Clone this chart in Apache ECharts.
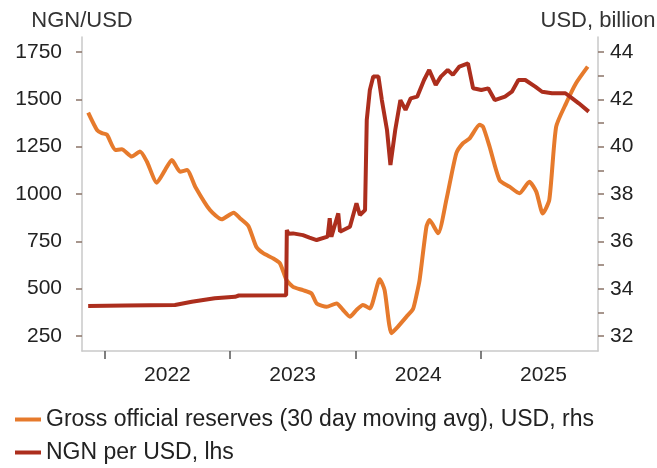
<!DOCTYPE html>
<html>
<head>
<meta charset="utf-8">
<script src="https://cdn.jsdelivr.net/npm/echarts@6/dist/echarts.min.js"></script>
<style>
  html, body { margin: 0; padding: 0; background: #fff; }
  #chart { width: 657px; height: 468px; }
</style>
</head>
<body>
<div id="chart"></div>
<script>
// Gross official reserves, 30 day moving avg (USD bn, right axis)
const reserveDates = [
  '2021-11-13', '2021-12-09', '2021-12-23', '2022-01-07', '2022-01-31', '2022-02-19',
  '2022-03-20', '2022-04-13', '2022-05-03', '2022-06-01', '2022-06-25', '2022-07-15',
  '2022-08-08', '2022-08-28', '2022-09-21', '2022-11-03', '2022-12-07', '2023-01-11',
  '2023-01-30', '2023-02-23', '2023-03-18', '2023-04-07', '2023-05-06', '2023-05-26',
  '2023-06-14', '2023-07-03', '2023-08-01', '2023-08-26', '2023-09-10', '2023-10-09',
  '2023-11-07', '2023-11-26', '2023-12-16', '2024-01-04', '2024-01-23', '2024-02-12',
  '2024-03-12', '2024-03-26', '2024-04-15', '2024-05-04', '2024-05-29', '2024-06-17',
  '2024-06-28', '2024-07-06', '2024-07-26', '2024-08-04', '2024-08-29', '2024-09-22',
  '2024-10-21', '2024-11-09', '2024-11-29', '2024-12-28', '2025-01-07', '2025-01-26',
  '2025-02-24', '2025-03-25', '2025-04-23', '2025-05-22', '2025-06-11', '2025-06-30',
  '2025-07-19', '2025-08-08', '2025-09-06', '2025-10-05', '2025-11-08'
];
const reserveValues = [
  41.44, 40.70, 40.57, 40.50, 39.86, 39.89,
  39.58, 39.79, 39.37, 38.48, 39.01, 39.44,
  38.94, 39.01, 38.31, 37.32, 36.93, 37.21,
  36.97, 36.65, 35.77, 35.50, 35.28, 35.07,
  34.37, 34.08, 33.94, 33.80, 33.38, 33.24,
  33.38, 33.10, 32.82, 33.10, 33.31, 33.17,
  34.40, 33.94, 32.12, 32.40, 32.82, 33.15,
  33.80, 34.37, 36.62, 36.90, 36.34, 37.75,
  39.72, 40.14, 40.35, 40.92, 40.84, 40.00,
  38.59, 38.31, 38.03, 38.52, 38.10, 37.18,
  37.75, 40.84, 41.83, 42.68, 43.38
];

// NGN per USD (left axis)
const ngnDates = [
  '2021-11-13', '2022-03-01', '2022-07-24', '2022-09-11', '2022-11-17', '2023-01-15',
  '2023-01-26', '2023-06-13', '2023-06-15', '2023-06-20', '2023-07-03', '2023-08-01',
  '2023-08-20', '2023-09-10', '2023-10-12', '2023-10-18', '2023-10-23', '2023-11-12',
  '2023-11-17', '2023-12-16', '2024-01-04', '2024-01-14', '2024-01-29', '2024-02-03',
  '2024-02-12', '2024-02-22', '2024-03-08', '2024-03-18', '2024-04-02', '2024-04-12',
  '2024-04-26', '2024-05-11', '2024-05-26', '2024-06-10', '2024-06-29', '2024-07-19',
  '2024-08-03', '2024-08-22', '2024-09-06', '2024-09-26', '2024-10-11', '2024-10-30',
  '2024-11-24', '2024-12-09', '2025-01-02', '2025-01-22', '2025-02-10', '2025-03-12',
  '2025-04-01', '2025-04-20', '2025-05-10', '2025-06-08', '2025-06-28', '2025-07-27',
  '2025-09-04', '2025-09-24', '2025-10-13', '2025-11-11'
];
const ngnValues = [
  408, 411, 414, 431, 449, 457,
  464, 466, 810, 790, 792, 783,
  770, 757, 775, 872, 774, 898,
  801, 827, 951, 889, 915, 1391,
  1549, 1620, 1620, 1496, 1338, 1153,
  1338, 1496, 1444, 1505, 1514, 1602,
  1655, 1576, 1620, 1655, 1629, 1673,
  1690, 1558, 1549, 1558, 1496, 1514,
  1540, 1602, 1602, 1567, 1540, 1532,
  1532, 1505, 1479, 1435
];

const yearTicks = ['2022-01-01', '2023-01-01', '2024-01-01', '2025-01-01'];
const yearLabels = ['2022-07-02', '2023-07-02', '2024-07-02', '2025-07-02'];
const ngnTicks = [250, 500, 750, 1000, 1250, 1500, 1750];
const usdTicks = [32, 33, 34, 35, 36, 37, 38, 39, 40, 41, 42, 43, 44];
const usdLabels = [32, 34, 36, 38, 40, 42, 44];
const reserveName = 'Gross official reserves (30 day moving avg), USD, rhs';
const ngnName = 'NGN per USD, lhs';

const ORANGE = '#e67a2c';
const RED = '#ac2e1d';
const FONT = '"Liberation Sans", Arial, sans-serif';

// dates as UTC timestamps on a plain value axis
const ts = s => Date.parse(s + 'T00:00:00Z');
const zip = (dates, vals) => dates.map((d, i) => [ts(d), vals[i]]);

const chart = echarts.init(document.getElementById('chart'));

const axisLineStyle = { show: true, lineStyle: { color: '#c9c9c9', width: 1.5 } };
const tickStyle = { color: '#8a7468', width: 1.5 };
const labelStyle = { color: '#222', fontSize: 21, fontFamily: FONT, formatter: v => String(v) };
const nameStyle = { color: '#333', fontSize: 22, fontFamily: FONT };

const legendBase = {
  left: 10,
  itemWidth: 26,
  itemHeight: 4,
  icon: 'rect',
  textStyle: { color: '#222', fontSize: 23, fontFamily: FONT }
};

chart.setOption({
  animation: false,
  backgroundColor: '#fff',
  grid: { left: 82, right: 59, top: 37, bottom: 117, containLabel: false, outerBoundsMode: 'none' },
  legend: [
    Object.assign({}, legendBase, { top: 403, data: [reserveName] }),
    Object.assign({}, legendBase, { top: 436, data: [ngnName] })
  ],
  xAxis: {
    type: 'value',
    min: ts('2021-10-26'),
    max: ts('2025-12-08'),
    axisLine: axisLineStyle,
    axisTick: {
      show: true, length: 8, lineStyle: { color: '#555', width: 1.5 },
      customValues: yearTicks.map(ts)
    },
    axisLabel: Object.assign({}, labelStyle, {
      margin: 14,
      customValues: yearLabels.map(ts),
      formatter: v => String(new Date(v).getUTCFullYear())
    }),
    splitLine: { show: false }
  },
  yAxis: [
    {
      type: 'value',
      name: 'NGN/USD',
      nameLocation: 'end',
      nameGap: 5,
      nameTextStyle: nameStyle,
      position: 'left',
      min: 171,
      max: 1829,
      axisLine: axisLineStyle,
      axisTick: { show: true, length: 6, lineStyle: tickStyle, customValues: ngnTicks },
      axisLabel: Object.assign({}, labelStyle, { customValues: ngnTicks, margin: 20 }),
      splitLine: { show: false }
    },
    {
      type: 'value',
      name: 'USD, billion',
      nameLocation: 'end',
      nameGap: 5,
      nameTextStyle: nameStyle,
      position: 'right',
      min: 31.37,
      max: 44.63,
      axisLine: axisLineStyle,
      axisTick: { show: true, length: 6, lineStyle: tickStyle, customValues: usdTicks },
      axisLabel: Object.assign({}, labelStyle, { customValues: usdLabels, margin: 12 }),
      splitLine: { show: false }
    }
  ],
  series: [
    {
      name: reserveName,
      type: 'line',
      yAxisIndex: 1,
      data: zip(reserveDates, reserveValues),
      showSymbol: false,
      smooth: 0.2,
      color: ORANGE,
      lineStyle: { width: 4, color: ORANGE }
    },
    {
      name: ngnName,
      type: 'line',
      yAxisIndex: 0,
      data: zip(ngnDates, ngnValues),
      showSymbol: false,
      color: RED,
      lineStyle: { width: 4, color: RED }
    }
  ]
});
</script>
</body>
</html>
